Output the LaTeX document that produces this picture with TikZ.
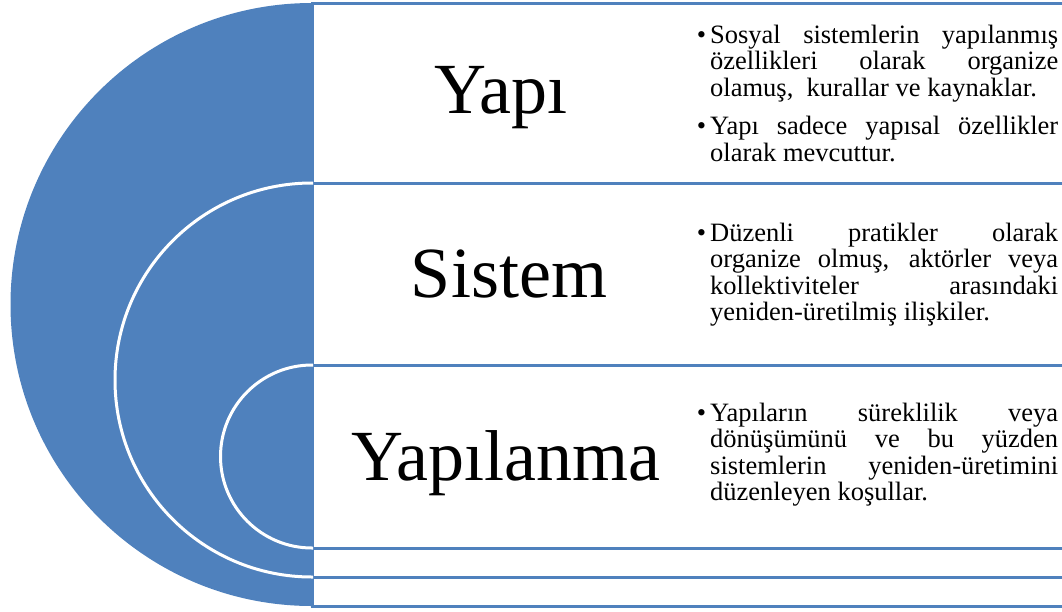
\documentclass[tikz,border=0pt]{standalone}
\usepackage{fontspec}
\setmainfont{Liberation Serif}
\definecolor{accentblue}{HTML}{4F81BD}
\newcommand\itembullet{\leavevmode\llap{\textbullet\hspace{4pt}}}
\newcommand\bodysetup{\fontsize{26.5}{26.5}\selectfont\tolerance=10000\relax
  \hbadness=10000\relax\hyphenpenalty=10000\relax\exhyphenpenalty=10000\relax
  \parskip=12pt\relax}
\begin{document}
\begin{tikzpicture}[x=1pt,y=-1pt,
  band/.style={draw=accentblue, line width=3pt, fill=white},
  disc/.style={fill=accentblue},
  rim/.style={draw=white, line width=3pt},
  title/.style={anchor=base, inner sep=0pt, font=\fontsize{72}{80}\selectfont},
  body/.style={anchor=base west, inner sep=0pt, text width=348pt, align=justify,
    font=\bodysetup}
]
\useasboundingbox (0,0) rectangle (1062,611);
\clip (0,0) rectangle (1062,611);

% bands, outermost first
\draw[band] (312,3) rectangle (1100,606);
\draw[band] (312,183) rectangle (1100,577);
\draw[band] (312,365) rectangle (1100,548);

% nested half discs
\fill[disc] (312,3) arc[start angle=270, end angle=90, radius=301.5] -- cycle;
\fill[disc] (312,183) arc[start angle=270, end angle=90, radius=197] -- cycle;
\draw[rim] (313,183) -- (312,183) arc[start angle=270, end angle=90, radius=197] -- (313,577);
\fill[disc] (312,365) arc[start angle=270, end angle=90, radius=91.5] -- cycle;
\draw[rim] (313,365) -- (312,365) arc[start angle=270, end angle=90, radius=91.5] -- (313,548);

% titles
\node[title] (yapi) at (501,113) {Yapı};
\node[title] (sistem) at (509,297) {Sistem};
\node[title] (yapilanma) at (506,480) {Yapılanma};

% descriptions
\node[body] (yapitext) at (710,43) {\itembullet Sosyal sistemlerin yapılanmış\linebreak özellikleri olarak organize\linebreak olamuş,~ kurallar ve kaynaklar.\par
\itembullet Yapı sadece yapısal özellikler\linebreak olarak mevcuttur.};
\node[body] (sistemtext) at (710,241) {\itembullet Düzenli pratikler olarak\linebreak organize olmuş, aktörler veya\linebreak kollektiviteler arasındaki\linebreak yeniden-üretilmiş ilişkiler.};
\node[body] (yapilanmatext) at (710,421) {\itembullet Yapıların süreklilik veya\linebreak dönüşümünü ve bu yüzden\linebreak sistemlerin yeniden-üretimini\linebreak düzenleyen koşullar.};
\end{tikzpicture}
\end{document}
